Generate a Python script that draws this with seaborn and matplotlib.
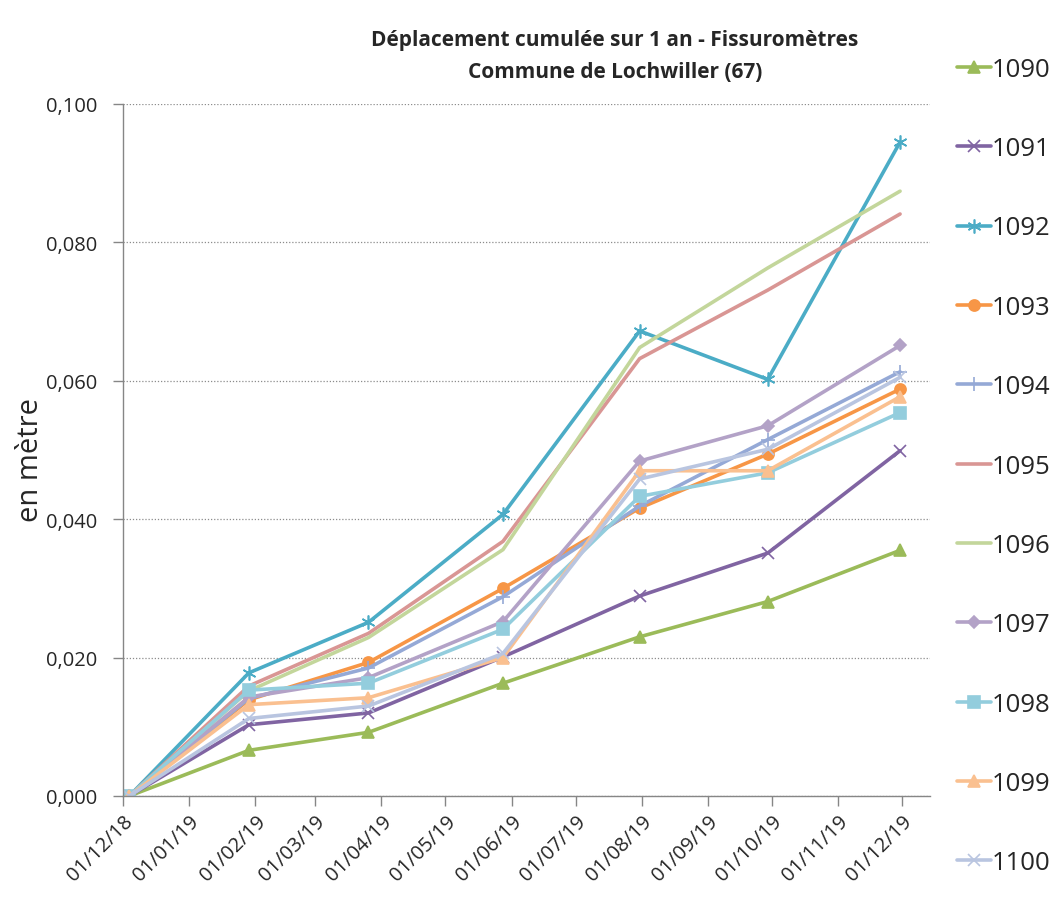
import matplotlib
matplotlib.use("Agg")
import matplotlib.pyplot as plt
import matplotlib.dates as mdates
import matplotlib.ticker as mticker
import seaborn as sns
import pandas as pd
import numpy as np

# ---------------- data ----------------
dates = ["2018-12-04", "2019-01-29", "2019-03-26", "2019-05-28",
         "2019-07-31", "2019-09-29", "2019-11-30"]
s1090 = [0.0, 0.0066, 0.0092, 0.0163, 0.0230, 0.0281, 0.0355]
s1091 = [0.0, 0.0103, 0.0120, 0.0201, 0.0289, 0.0351, 0.0499]
s1092 = [0.0, 0.0178, 0.0251, 0.0407, 0.0672, 0.0602, 0.0945]
s1093 = [0.0, 0.0139, 0.0193, 0.0300, 0.0416, 0.0494, 0.0588]
s1094 = [0.0, 0.0141, 0.0185, 0.0288, 0.0419, 0.0515, 0.0613]
s1095 = [0.0, 0.0159, 0.0235, 0.0368, 0.0632, 0.0731, 0.0841]
s1096 = [0.0, 0.0152, 0.0229, 0.0356, 0.0648, 0.0763, 0.0874]
s1097 = [0.0, 0.0143, 0.0171, 0.0252, 0.0484, 0.0535, 0.0651]
s1098 = [0.0, 0.0153, 0.0163, 0.0241, 0.0433, 0.0467, 0.0554]
s1099 = [0.0, 0.0132, 0.0142, 0.0200, 0.0470, 0.0470, 0.0577]
s1100 = [0.0, 0.0112, 0.0130, 0.0206, 0.0458, 0.0501, 0.0605]

names = ["1090", "1091", "1092", "1093", "1094", "1095",
         "1096", "1097", "1098", "1099", "1100"]
series = [s1090, s1091, s1092, s1093, s1094, s1095,
          s1096, s1097, s1098, s1099, s1100]

colors = ["#9BBB59", "#8064A2", "#4BACC6", "#F79646", "#95A9D6", "#D99694",
          "#C3D69B", "#B3A2C7", "#93CDDD", "#FAC090", "#B9C5E0"]
markers = ["^", "x", (6, 2, 0), "o", "+", None,
           None, "D", "s", "^", "x"]
msizes = [8, 8, 10, 8, 10, 0, 0, 6, 8, 8, 8]

title = "Déplacement cumulée sur 1 an - Fissuromètres\nCommune de Lochwiller (67)"
ylabel = "en mètre"

# ---------------- figure ----------------
sns.set_style("white")
plt.rcParams["font.family"] = ["Open Sans", "DejaVu Sans"]

fig = plt.figure(figsize=(10.61, 9.12), dpi=100)
ax = fig.add_axes([0.1159, 0.1261, 0.7606, 0.7588])

d = pd.to_datetime(dates)
for name, vals, col, mk, ms in zip(names, series, colors, markers, msizes):
    df = pd.DataFrame({"date": d, "val": vals})
    kw = {}
    if mk is not None:
        kw = dict(marker=mk, markersize=ms, markeredgecolor=col,
                  markerfacecolor=col, markeredgewidth=1.2)
    sns.lineplot(data=df, x="date", y="val", ax=ax, color=col,
                 linewidth=2.6, label=name, **kw)

ax.set_ylim(0, 0.100)
ax.set_xlim(pd.Timestamp("2018-12-01"), pd.Timestamp("2019-12-14"))
ax.yaxis.set_major_locator(mticker.MultipleLocator(0.020))
ax.yaxis.set_major_formatter(mticker.FuncFormatter(
    lambda v, p: f"{v:.3f}".replace(".", ",")))
ax.xaxis.set_major_locator(mdates.MonthLocator(bymonthday=1))
ax.xaxis.set_major_formatter(mdates.DateFormatter("%d/%m/%y"))
plt.setp(ax.get_xticklabels(), rotation=45, ha="right",
         rotation_mode="anchor")
ax.tick_params(axis="both", labelsize=14.5, length=7, width=1,
               color="#868686", direction="out", bottom=True, left=True)
ax.tick_params(axis="y", pad=11.5)
ax.grid(axis="y", linestyle=(0, (1, 1.5)), color="#8C8C8C", linewidth=0.9)
ax.grid(axis="x", visible=False)
for s in ["top", "right"]:
    ax.spines[s].set_visible(False)
for s in ["left", "bottom"]:
    ax.spines[s].set_color("#868686")
    ax.spines[s].set_linewidth(1)
ax.set_xlabel("")
ax.set_ylabel(ylabel, fontsize=21)
ax.yaxis.set_label_coords(-0.0967, 0.487)

fig.text(0.5797, 0.938, title, ha="center", va="center", fontsize=15,
         fontweight="bold", linespacing=1.66)

handles, labels = ax.get_legend_handles_labels()
ax.legend(handles, labels, loc="upper left", bbox_to_anchor=(1.021, 1.083),
          frameon=False, fontsize=18.5, labelspacing=2.115, handlelength=1.3,
          handletextpad=0.06, borderaxespad=0)

fig.savefig("out.png", dpi=100)
